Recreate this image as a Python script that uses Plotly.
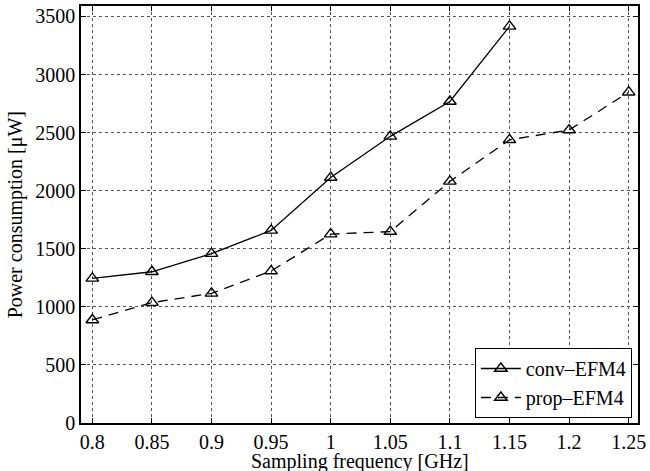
import plotly.graph_objects as go

freq_conv = [0.8, 0.85, 0.9, 0.95, 1.0, 1.05, 1.1, 1.15]
power_conv = [1245, 1302, 1458, 1658, 2113, 2468, 2768, 3415]
freq_prop = [0.8, 0.85, 0.9, 0.95, 1.0, 1.05, 1.1, 1.15, 1.2, 1.25]
power_prop = [887, 1036, 1116, 1308, 1626, 1648, 2080, 2438, 2522, 2848]

x_ticks = [0.8, 0.85, 0.9, 0.95, 1.0, 1.05, 1.1, 1.15, 1.2, 1.25]
x_labels = ["0.8", "0.85", "0.9", "0.95", "1", "1.05", "1.1", "1.15", "1.2", "1.25"]
y_ticks = [0, 500, 1000, 1500, 2000, 2500, 3000, 3500]

font_family = "Liberation Serif"

fig = go.Figure()
fig.add_trace(go.Scatter(
    x=freq_conv, y=power_conv, mode="lines+markers", name="conv\u2013EFM4",
    line=dict(color="black", width=1.3),
    marker=dict(symbol="triangle-up-open", size=11, color="black", line=dict(width=1.4, color="black")),
))
fig.add_trace(go.Scatter(
    x=freq_prop, y=power_prop, mode="lines+markers", name="prop\u2013EFM4",
    line=dict(color="black", width=1.3, dash="10px,7px"),
    marker=dict(symbol="triangle-up-open", size=11, color="black", line=dict(width=1.4, color="black")),
))

axis_common = dict(
    showline=True, linecolor="black", linewidth=1.5, mirror="ticks",
    ticks="inside", ticklen=5, tickcolor="black", tickwidth=1,
    showgrid=True, gridcolor="#555555", gridwidth=1, griddash="dot",
    zeroline=False,
    tickfont=dict(family=font_family, size=20, color="black"),
)

fig.update_xaxes(
    range=[0.7905, 1.2578], tickvals=x_ticks, ticktext=x_labels,
    ticklabeloverflow="allow",
    **axis_common,
)
fig.update_yaxes(
    range=[0, 3590], tickvals=y_ticks,
    **axis_common,
)

fig.add_annotation(
    text="Sampling frequency [GHz]", xref="paper", yref="paper",
    x=0.5, y=-0.093, xanchor="center", yanchor="middle", showarrow=False,
    font=dict(family=font_family, size=20, color="black"),
)
fig.add_annotation(
    text="Power consumption [\u03bcW]", xref="paper", yref="paper",
    x=-0.117, y=0.5, xanchor="center", yanchor="middle", showarrow=False,
    textangle=-90, font=dict(family=font_family, size=20, color="black"),
)

fig.update_layout(
    width=650, height=471,
    margin=dict(l=81, r=9, t=4, b=48),
    plot_bgcolor="white", paper_bgcolor="white",
    font=dict(family=font_family, size=20, color="black"),
    legend=dict(
        x=0.989, y=0.012, xanchor="right", yanchor="bottom",
        bgcolor="white", bordercolor="black", borderwidth=1,
        font=dict(family=font_family, size=20, color="black"),
        tracegroupgap=0, itemwidth=40,
    ),
)

fig.write_html("out.html", config={"displayModeBar": False},
               post_script="document.body.style.margin='0';document.body.style.padding='0';")
